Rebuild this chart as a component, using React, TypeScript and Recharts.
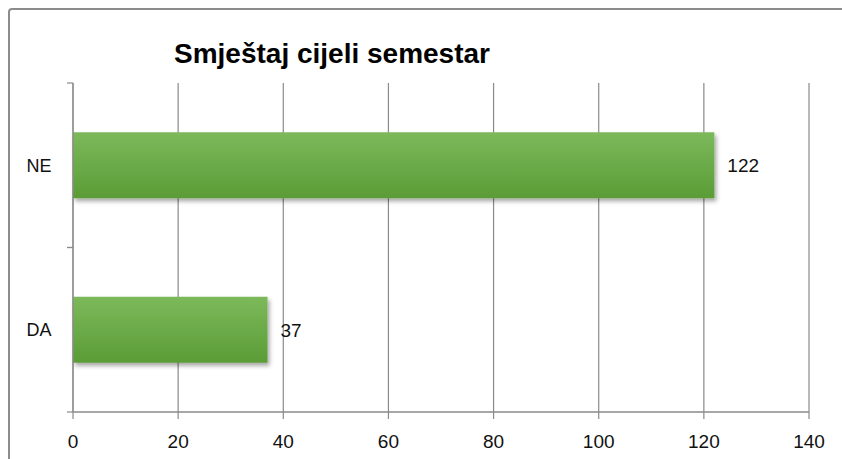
import React from "react";
import { BarChart, Bar, XAxis, YAxis, CartesianGrid, LabelList } from "recharts";

const categories = ["NE", "DA"];
const values = [122, 37];
const xTicks = [0, 20, 40, 60, 80, 100, 120, 140];
const title = "Smještaj cijeli semestar";

const data = categories.map((c, i) => ({ name: c, value: values[i] }));

const FONT = "'Liberation Sans', Arial, sans-serif";

const YTick = (props: any) => {
  const { x, y, payload, height } = props;
  const half = height / (2 * categories.length);
  return (
    <g>
      <text x={x - 12} y={y} dy="0.35em" textAnchor="middle" fontSize={18} fill="#111" fontFamily={FONT}>
        {payload.value}
      </text>
      <line x1={x + 16} x2={x + 22} y1={y - half} y2={y - half} stroke="#8a8a8a" strokeWidth={1.2} />
      <line x1={x + 16} x2={x + 22} y1={y + half} y2={y + half} stroke="#8a8a8a" strokeWidth={1.2} />
    </g>
  );
};

export default function App() {
  return (
    <div style={{ position: "absolute", left: 0, top: 0, width: 842, height: 459, overflow: "hidden", background: "#fff" }}>
      <div style={{ position: "absolute", left: 8, top: 8, width: 900, height: 520, border: "2px solid #8c8c8c", borderRadius: 4, boxSizing: "border-box" }} />
      <div style={{ position: "absolute", left: 82, width: 500, top: 36, textAlign: "center", fontFamily: FONT, fontWeight: "bold", fontSize: 28, lineHeight: "36px", color: "#000" }}>
        {title}
      </div>
      <div style={{ position: "absolute", left: 0, top: 0 }}>
        <BarChart width={842} height={459} data={data} layout="vertical" margin={{ top: 83, right: 33, bottom: 0, left: 0 }} barCategoryGap="30%">
          <defs>
            <linearGradient id="barGrad" x1="0" y1="0" x2="0" y2="1">
              <stop offset="0%" stopColor="#7cb95b" />
              <stop offset="100%" stopColor="#5b9c36" />
            </linearGradient>
            <filter id="shadow" x="-5%" y="-20%" width="115%" height="150%">
              <feDropShadow dx="2" dy="3" stdDeviation="2" floodColor="#000" floodOpacity="0.35" />
            </filter>
          </defs>
          <CartesianGrid horizontal={false} stroke="#8a8a8a" strokeWidth={1.2} />
          <XAxis
            type="number"
            domain={[0, 140]}
            ticks={xTicks}
            height={47}
            tickSize={7}
            tickMargin={16}
            axisLine={{ stroke: "#8a8a8a", strokeWidth: 1.5 }}
            tickLine={{ stroke: "#8a8a8a", strokeWidth: 1.2 }}
            tick={{ fontSize: 19, fill: "#111", fontFamily: FONT }}
            interval={0}
          />
          <YAxis
            type="category"
            dataKey="name"
            width={73}
            tickSize={0}
            tickMargin={22}
            tickLine={false}
            axisLine={{ stroke: "#8a8a8a", strokeWidth: 1.2 }}
            tick={<YTick />}
          />
          <Bar dataKey="value" fill="url(#barGrad)" filter="url(#shadow)" isAnimationActive={false}>
            <LabelList dataKey="value" position="right" offset={13} fontSize={19} fill="#111" fontFamily={FONT} />
          </Bar>
        </BarChart>
      </div>
    </div>
  );
}
